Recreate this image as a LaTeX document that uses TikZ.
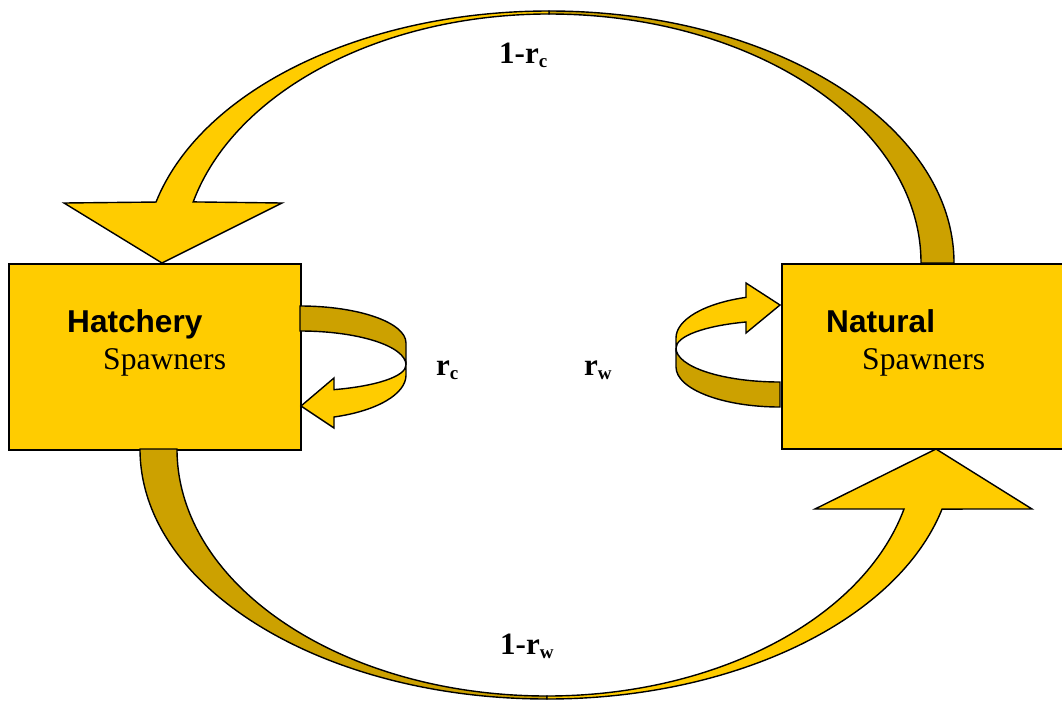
\documentclass[tikz,border=0pt]{standalone}
\usepackage{fontspec}
\setmainfont{Liberation Serif}
\newfontfamily\arialfont{Liberation Sans}
\definecolor{gold}{RGB}{255,204,0}
\definecolor{darkgold}{RGB}{204,161,0}
\newcommand\lowsub[1]{\raisebox{-4pt}{\fontsize{19}{19}\selectfont #1}}
\tikzset{
  box/.style={draw=black, fill=gold, line width=1.5pt, rectangle, inner sep=0pt, anchor=north west},
  lightband/.style={draw=black, fill=gold, line width=1.4pt, line join=miter},
  darkband/.style={draw=black, fill=darkgold, line width=1.4pt, line join=miter},
  lbl/.style={inner sep=0pt, anchor=base west, font=\fontsize{31}{31}\selectfont\bfseries},
  titletxt/.style={inner sep=0pt, anchor=base west, font=\fontsize{31.6}{32}\selectfont\arialfont\bfseries},
  subtxt/.style={inner sep=0pt, anchor=base west, font=\fontsize{31.6}{32}\selectfont}
}
\begin{document}
\begin{tikzpicture}[x=1pt, y=-1pt]
\useasboundingbox (0,0) rectangle (1062,702);
% boxes
\node[box, minimum width=292pt, minimum height=186pt] (hatch) at (8,263) {};
\node[box, minimum width=290pt, minimum height=185pt] (natural) at (781,263) {};
% top arc: natural -> hatchery
\draw[darkband] (954,263) arc[start angle=0, end angle=-90, x radius=405, y radius=252]
  -- (549,14) arc[start angle=-90, end angle=0, x radius=372, y radius=249] -- cycle;
\draw[lightband] (549,11) arc[start angle=270, end angle=194, x radius=405, y radius=252]
  -- (64,203) -- (162,263) -- (282,203) -- (193.2,201.9)
  arc[start angle=194.2, end angle=270, x radius=367, y radius=249] -- cycle;
% bottom arc: hatchery -> natural
\draw[darkband] (140,449) arc[start angle=180, end angle=90, x radius=407, y radius=250]
  -- (547,696) arc[start angle=90, end angle=180, x radius=370, y radius=247] -- cycle;
\draw[lightband] (547,699) arc[start angle=90, end angle=13.9, x radius=407, y radius=250]
  -- (1032,509) -- (936,449) -- (815,509) -- (904,509)
  arc[start angle=14.06, end angle=90, x radius=368, y radius=247] -- cycle;
% left loop (r_c)
\draw[darkband] (300,306) arc[start angle=-90, end angle=0, x radius=106, y radius=37]
  -- (406,365) arc[start angle=0, end angle=-90, x radius=106, y radius=34] -- cycle;
\draw[lightband] (406,365) arc[start angle=0, end angle=71.3, x radius=106, y radius=26]
  -- (334,378) -- (301,406) -- (334,428) -- (334,417)
  arc[start angle=71.3, end angle=0, x radius=106, y radius=44.3] -- cycle;
% right loop (r_w)
\draw[darkband] (676,348) arc[start angle=180, end angle=90, x radius=104, y radius=34]
  -- (780,407) arc[start angle=90, end angle=180, x radius=104, y radius=40] -- cycle;
\draw[lightband] (676,338) arc[start angle=180, end angle=250.9, x radius=104, y radius=43]
  -- (746,283) -- (780,305) -- (746,333) -- (746,322)
  arc[start angle=250.9, end angle=180, x radius=104, y radius=27.5] -- cycle;
% texts
\node[titletxt] (hatchT) at (67,332) {Hatchery};
\node[subtxt] (hatchS) at (103,369) {Spawners};
\node[titletxt] (natT) at (826,332) {Natural};
\node[subtxt] (natS) at (862,369) {Spawners};
\node[lbl] (lrc) at (499,63) {1-r\lowsub{c}};
\node[lbl] (lrw) at (500,654) {1-r\lowsub{w}};
\node[lbl] (rc) at (436,375) {r\lowsub{c}};
\node[lbl] (rw) at (584,375) {r\lowsub{w}};
\end{tikzpicture}
\end{document}
